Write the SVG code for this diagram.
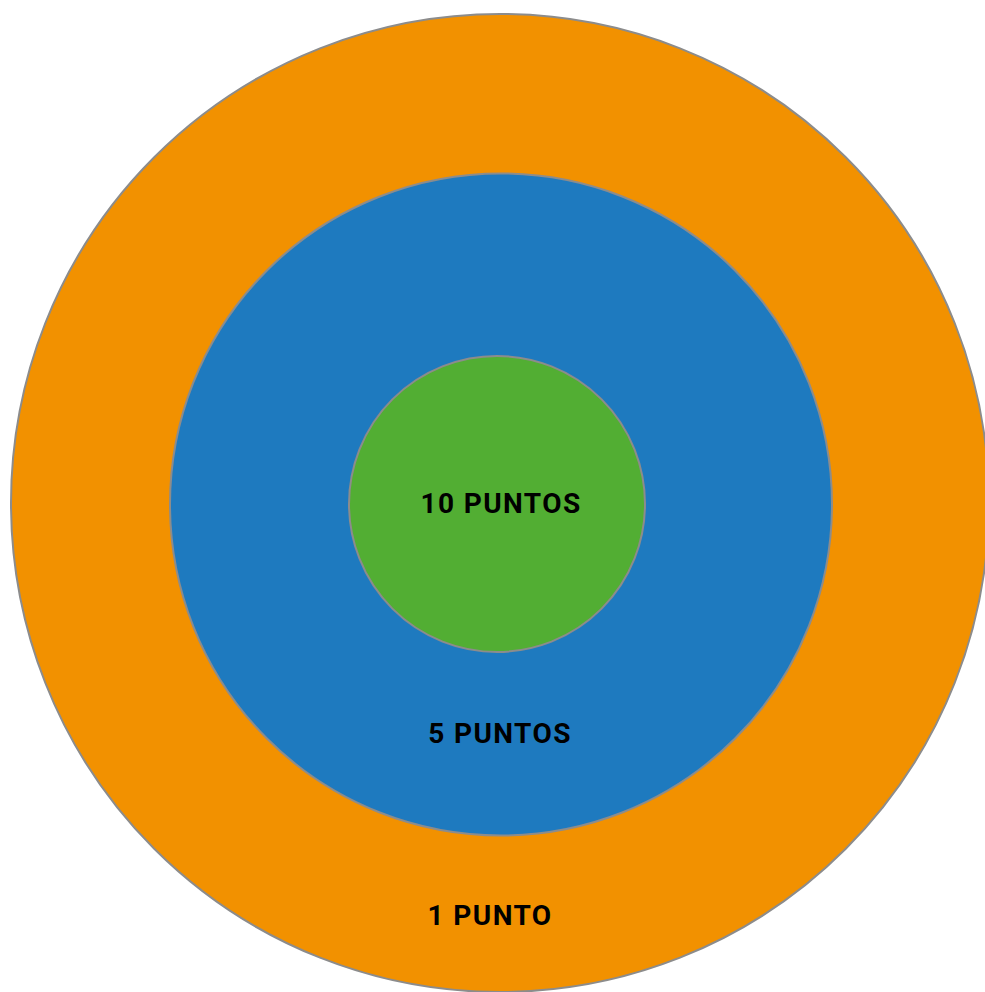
<svg xmlns="http://www.w3.org/2000/svg" width="985" height="992" viewBox="0 0 985 992">
<style>
.ring{stroke:#8c8c8c;stroke-width:2}
.lbl{font-family:Roboto,"Liberation Sans",sans-serif;font-weight:bold;font-size:28px;letter-spacing:1.4px;fill:#000;text-anchor:middle}
</style>
<rect width="985" height="992" fill="#ffffff"/>
<g id="outer">
<circle class="ring" cx="500" cy="503" r="489" fill="#F29100"/>
<text class="lbl" x="490" y="925">1 PUNTO</text>
</g>
<g id="middle">
<circle class="ring" cx="501" cy="504.5" r="331" fill="#1E7ABF"/>
<text class="lbl" x="500" y="743">5 PUNTOS</text>
</g>
<g id="inner">
<circle class="ring" cx="497" cy="504" r="148" fill="#52AE33"/>
<text class="lbl" x="501" y="513">10 PUNTOS</text>
</g>
<g id="connectors"/>
</svg>
